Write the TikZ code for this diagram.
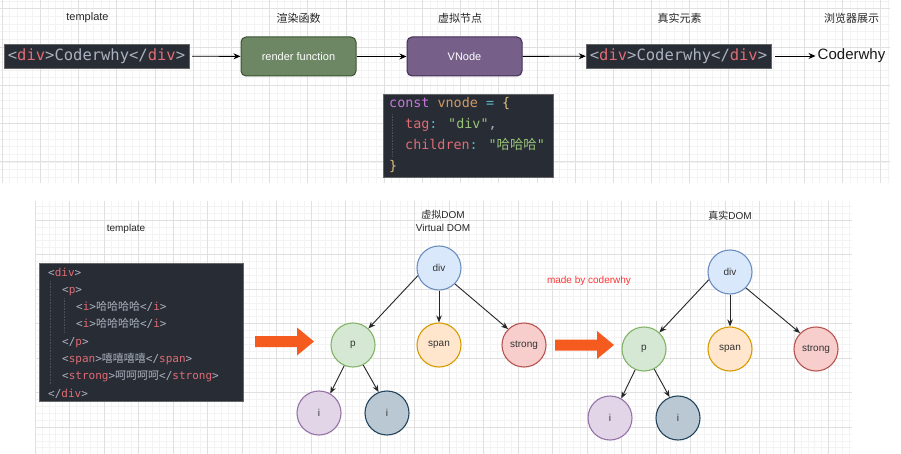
\documentclass[tikz,border=0pt]{standalone}
\usepackage{fontspec}
\setmainfont{Liberation Sans}
\newfontfamily\cjk{Noto Sans CJK SC}
\newfontfamily\mono{DejaVu Sans Mono}
\usetikzlibrary{arrows.meta}
\definecolor{codebg}{RGB}{40,44,52}
\definecolor{cred}{RGB}{224,108,117}
\definecolor{cgray}{RGB}{171,178,191}
\definecolor{cpurple}{RGB}{198,120,221}
\definecolor{corange}{RGB}{209,154,102}
\definecolor{ccyan}{RGB}{86,182,194}
\definecolor{cyellow}{RGB}{229,192,123}
\definecolor{cgreen}{RGB}{152,195,121}
\definecolor{guide}{RGB}{75,80,92}
\definecolor{gmajor}{RGB}{224,224,224}
\definecolor{gminor}{RGB}{243,243,243}
\definecolor{rfill}{RGB}{109,135,100}
\definecolor{rdraw}{RGB}{58,84,49}
\definecolor{vfill}{RGB}{118,96,138}
\definecolor{vdraw}{RGB}{67,45,87}
\definecolor{bigorange}{RGB}{245,90,30}
\definecolor{bfill}{RGB}{218,232,252}\definecolor{bdraw}{RGB}{108,142,191}
\definecolor{gfill}{RGB}{213,232,212}\definecolor{gdraw}{RGB}{130,179,102}
\definecolor{ofill}{RGB}{255,230,204}\definecolor{odraw}{RGB}{215,155,0}
\definecolor{pfill}{RGB}{248,206,204}\definecolor{pdraw}{RGB}{184,84,80}
\definecolor{lfill}{RGB}{225,213,231}\definecolor{ldraw}{RGB}{150,115,166}
\definecolor{sfill}{RGB}{186,200,211}\definecolor{sdraw}{RGB}{35,68,93}
\definecolor{madered}{RGB}{255,51,51}
\newcommand{\tg}[1]{\textcolor{cred}{#1}}
\newcommand{\bk}[1]{\textcolor{cgray}{#1}}
\newcommand{\zh}[1]{{\cjk #1}}
\begin{document}
\begin{tikzpicture}[x=1pt,y=-1pt,
  lbl/.style={inner sep=0pt, font=\fontsize{11}{11}\selectfont, text=black!85},
  zlbl/.style={inner sep=0pt, font=\cjk\fontsize{11}{11}\selectfont, text=black!85},
  slbl/.style={inner sep=0pt, font=\fontsize{10}{12}\selectfont, text=black!85},
  codebox/.style={fill=codebg, draw=black!60, line width=0.4pt, inner sep=0pt},
  codeline/.style={inner sep=0pt, anchor=base west, text=cgray},
  fbox/.style={rounded corners=5pt, line width=1pt, text=white, font=\fontsize{11}{11}\selectfont},
  arr/.style={-{Stealth[length=7pt,width=6pt]}, line width=0.9pt, black},
  tarr/.style={-{Stealth[length=7pt,width=5.5pt]}, line width=0.9pt, black!85},
  circ/.style={circle, minimum size=44pt, inner sep=0pt, line width=1.1pt, font=\fontsize{10}{10}\selectfont, text=black!80},
  bigarrow/.style={fill=bigorange, draw=none}
]
\useasboundingbox (0,0) rectangle (901,454);
\fill[white] (0,0) rectangle (901,454);
% ---- top grid
\foreach \i in {0,...,116} \draw[gminor, line width=0.5pt] ({2+7.64*\i},0) -- ({2+7.64*\i},183);
\foreach \j in {0,...,23} \draw[gminor, line width=0.5pt] (0,{0.94+7.66*\j}) -- (890,{0.94+7.66*\j});
\foreach \i in {0,...,23} \draw[gmajor, line width=0.6pt] ({2+38.2*\i},0) -- ({2+38.2*\i},183);
\foreach \j in {0,...,4} \draw[gmajor, line width=0.6pt] (0,{8.6+38.3*\j}) -- (890,{8.6+38.3*\j});
% ---- bottom grid
\foreach \i in {0,...,118} \draw[gminor, line width=0.5pt] ({35+6.9*\i},201) -- ({35+6.9*\i},454);
\foreach \j in {0,...,35} \draw[gminor, line width=0.5pt] (35,{206.2+6.9*\j}) -- (852,{206.2+6.9*\j});
\foreach \i in {0,...,23} \draw[gmajor, line width=0.6pt] ({35+34.5*\i},201) -- ({35+34.5*\i},454);
\foreach \j in {0,...,6} \draw[gmajor, line width=0.6pt] (35,{220+34.5*\j}) -- (852,{220+34.5*\j});

% ---- top labels
\node[lbl] (t1) at (87.5,18) {template};
\node[zlbl] (t2) at (298.5,18) {渲染函数};
\node[zlbl] (t3) at (460,18) {虚拟节点};
\node[zlbl] (t4) at (679.5,18) {真实元素};
\node[zlbl] (t5) at (851.5,18) {浏览器展示};

% ---- top flow
\node[codebox, minimum width=185pt, minimum height=24pt, text=cgray,
      font=\mono\fontsize{15.5}{15.5}\selectfont] (c1) at (96.5,56)
      {\bk{<}\tg{div}\bk{>}Coderwhy\bk{</}\tg{div}\bk{>}};
\node[fbox, fill=rfill, draw=rdraw, minimum width=115pt, minimum height=39pt] (rf) at (298.5,56.5) {render function};
\node[fbox, fill=vfill, draw=vdraw, minimum width=115pt, minimum height=39pt] (vn) at (464.5,56.5) {VNode};
\node[codebox, minimum width=185pt, minimum height=24pt, text=cgray,
      font=\mono\fontsize{15.5}{15.5}\selectfont] (c2) at (678.5,56)
      {\bk{<}\tg{div}\bk{>}Coderwhy\bk{</}\tg{div}\bk{>}};
\node[inner sep=2pt, font=\fontsize{15}{15}\selectfont, text=black!90] (cw) at (851.5,56) {Coderwhy};
\draw[arr, shorten <=3pt] (c1) -- (rf);
\draw[arr] (rf) -- (vn);
\draw[arr] (vn) -- (c2);
\draw[arr, shorten <=4pt] (c2) -- (cw);

% ---- vnode code
\node[codebox, anchor=north west, minimum width=170pt, minimum height=83pt] (c3) at (383,94) {};
\draw[guide, densely dotted, line width=0.6pt] (392,114) -- (392,156);
\begin{scope}[every node/.style={codeline, font=\mono\fontsize{13.4}{13.4}\selectfont}]
\node (v1) at (389,108) {\textcolor{cpurple}{const} \textcolor{corange}{vnode} \textcolor{ccyan}{=} \textcolor{cyellow}{\{}};
\node (v2) at (405,129) {\tg{tag}\textcolor{ccyan}{:} \textcolor{cgreen}{"div"},};
\node (v3) at (405,150) {\tg{children}\textcolor{ccyan}{:} \textcolor{cgreen}{"\zh{哈哈哈}"}};
\node (v4) at (389,171) {\textcolor{cyellow}{\}}};
\end{scope}

% ---- bottom labels
\node[slbl] (t6) at (126,229) {template};
\node[slbl, align=center, font=\fontsize{10}{12.5}\selectfont] (t7) at (443,221) {\zh{虚拟}DOM\\Virtual DOM};
\node[slbl] (t8) at (730,216) {\zh{真实}DOM};
\node[inner sep=0pt, font=\fontsize{10}{10}\selectfont, text=madered] (mk) at (589,281) {made by coderwhy};

% ---- template code
\node[codebox, anchor=north west, minimum width=204pt, minimum height=138pt] (c4) at (39,263) {};
\draw[guide, densely dotted, line width=0.6pt] (50,281) -- (50,385);
\draw[guide, densely dotted, line width=0.6pt] (64,298) -- (64,332);
\begin{scope}[every node/.style={codeline, font=\mono\fontsize{11}{11}\selectfont}]
\node (s1) at (48,276) {\bk{<}\tg{div}\bk{>}};
\node (s2) at (62,293.3) {\bk{<}\tg{p}\bk{>}};
\node (s3) at (76,310.6) {\bk{<}\tg{i}\bk{>}\zh{哈哈哈哈}\bk{</}\tg{i}\bk{>}};
\node (s4) at (76,327.9) {\bk{<}\tg{i}\bk{>}\zh{哈哈哈哈}\bk{</}\tg{i}\bk{>}};
\node (s5) at (62,345.2) {\bk{</}\tg{p}\bk{>}};
\node (s6) at (62,362.5) {\bk{<}\tg{span}\bk{>}\zh{嘻嘻嘻嘻}\bk{</}\tg{span}\bk{>}};
\node (s7) at (62,379.8) {\bk{<}\tg{strong}\bk{>}\zh{呵呵呵呵}\bk{</}\tg{strong}\bk{>}};
\node (s8) at (48,397.1) {\bk{</}\tg{div}\bk{>}};
\end{scope}

% ---- big arrows
\fill[bigarrow] (255,336) -- (297,336) -- (297,327.5) -- (314,341.5) -- (297,355.5) -- (297,347) -- (255,347) -- cycle;
\fill[bigarrow] (555,339.5) -- (597,339.5) -- (597,331) -- (614,345) -- (597,359) -- (597,350.5) -- (555,350.5) -- cycle;

% ---- virtual DOM tree
\node[circ, fill=bfill, draw=bdraw] (a0) at (439,268) {div};
\node[circ, fill=gfill, draw=gdraw] (ap) at (353,345) {p};
\node[circ, fill=ofill, draw=odraw] (as) at (439,345) {span};
\node[circ, fill=pfill, draw=pdraw] (at) at (524,345) {strong};
\node[circ, fill=lfill, draw=ldraw] (ai1) at (319,413) {i};
\node[circ, fill=sfill, draw=sdraw] (ai2) at (387,413) {i};
\draw[tarr] (a0.200) -- (ap.47);
\draw[tarr] (a0.south) -- (as.north);
\draw[tarr] (a0.315) -- (at.135);
\draw[tarr] (ap.247) -- (ai1.60);
\draw[tarr] (ap.297) -- (ai2.112);

% ---- real DOM tree
\node[circ, fill=bfill, draw=bdraw] (b0) at (730,272) {div};
\node[circ, fill=gfill, draw=gdraw] (bp) at (644,349) {p};
\node[circ, fill=ofill, draw=odraw] (bs) at (730,349) {span};
\node[circ, fill=pfill, draw=pdraw] (bt) at (816,349) {strong};
\node[circ, fill=lfill, draw=ldraw] (bi1) at (610,418) {i};
\node[circ, fill=sfill, draw=sdraw] (bi2) at (678,418) {i};
\draw[tarr] (b0.200) -- (bp.47);
\draw[tarr] (b0.south) -- (bs.north);
\draw[tarr] (b0.315) -- (bt.135);
\draw[tarr] (bp.247) -- (bi1.60);
\draw[tarr] (bp.297) -- (bi2.112);
\end{tikzpicture}
\end{document}
